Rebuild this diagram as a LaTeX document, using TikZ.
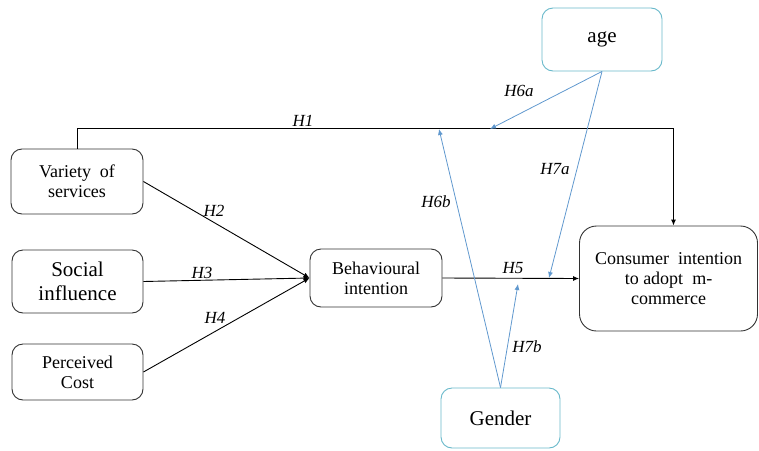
\documentclass[tikz,border=0pt]{standalone}
\usepackage{fontspec}
\setmainfont{LiberationSerif}[Extension=.ttf, UprightFont=*-Regular, ItalicFont=*-Italic, BoldFont=*-Bold, BoldItalicFont=*-BoldItalic]
\usetikzlibrary{arrows.meta}

\definecolor{modblue}{RGB}{96,152,206}
\definecolor{modbox}{RGB}{104,184,202}
\tikzset{every picture/.style={line width=0.9pt}}
\tikzset{
  varbox/.style={draw={rgb,255:red,50;green,50;blue,50}, rounded corners=11pt, align=center, inner sep=1pt, font=\fontsize{18}{20}\selectfont},
  modnode/.style={draw=modbox, rounded corners=11pt, align=center, inner sep=1pt, font=\fontsize{21}{22}\selectfont},
  hyp/.style={inner sep=0.75pt, font=\fontsize{17}{18}\selectfont\itshape},
  arr/.style={-{Latex[length=6pt,width=5pt]}},
  modarr/.style={draw=modblue, line width=0.8pt, -{Latex[length=6pt,width=5pt]}}
}

\begin{document}
\begin{tikzpicture}[x=1pt,y=1pt,yscale=-1,xscale=1]
\useasboundingbox (0,0) rectangle (759,450);

%Shape: Rounded Rect [id:var]
\node [varbox, minimum width=132, minimum height=65] (var) at (77,181.5) {Variety\ \ of\\services};
%Shape: Rounded Rect [id:soc]
\node [varbox, minimum width=131, minimum height=63, font=\fontsize{21}{24}\selectfont] (soc) at (77.5,281.5) {Social\\influence};
%Shape: Rounded Rect [id:cost]
\node [varbox, minimum width=131, minimum height=56] (cost) at (77.5,372) {Perceived\\Cost};
%Shape: Rounded Rect [id:beh]
\node [varbox, minimum width=132, minimum height=58] (beh) at (376,278) {Behavioural\\intention};
%Shape: Rounded Rect [id:cons]
\node [varbox, minimum width=178, minimum height=105, rounded corners=17pt] (cons) at (668.5,278.5) {Consumer\ \ intention\\to adopt \ m-\\commerce};
%Shape: Rounded Rect [id:age]
\node [modnode, minimum width=120, minimum height=63] (age) at (602,39.5) {age};
%Shape: Rounded Rect [id:gen]
\node [modnode, minimum width=119, minimum height=60] (gen) at (500.5,418) {Gender};

%Connectors
\draw [arr] (var.north) -- ++(0,-20) -| ([xshift=5]cons.north);
\draw [arr] (var.east) -- (beh.west);
\draw [arr] (soc.east) -- (beh.west);
\draw [arr] (cost.east) -- (beh.west);
\draw [arr] (beh.east) -- (cons.west);

%Moderators
\coordinate (a6) at (490,129);
\coordinate (a7) at (549,278);
\coordinate (g6) at (439,129);
\coordinate (g7) at (518,284);
\draw [modarr] (age.south) -- (a6);
\draw [modarr] (age.south) -- (a7);
\draw [modarr] (gen.north) -- (g6);
\draw [modarr] (gen.north) -- (g7);

% Text Node
\node [hyp] (h1) at (303,121) {H1};
% Text Node
\node [hyp] (h2) at (214,211) {H2};
% Text Node
\node [hyp] (h3) at (202,273) {H3};
% Text Node
\node [hyp] (h4) at (215,318) {H4};
% Text Node
\node [hyp] (h5) at (513,268) {H5};
% Text Node
\node [hyp] (h6a) at (519,91) {H6a};
% Text Node
\node [hyp] (h7a) at (555,169) {H7a};
% Text Node
\node [hyp] (h6b) at (436,202) {H6b};
% Text Node
\node [hyp] (h7b) at (527,347) {H7b};

\end{tikzpicture}
\end{document}
